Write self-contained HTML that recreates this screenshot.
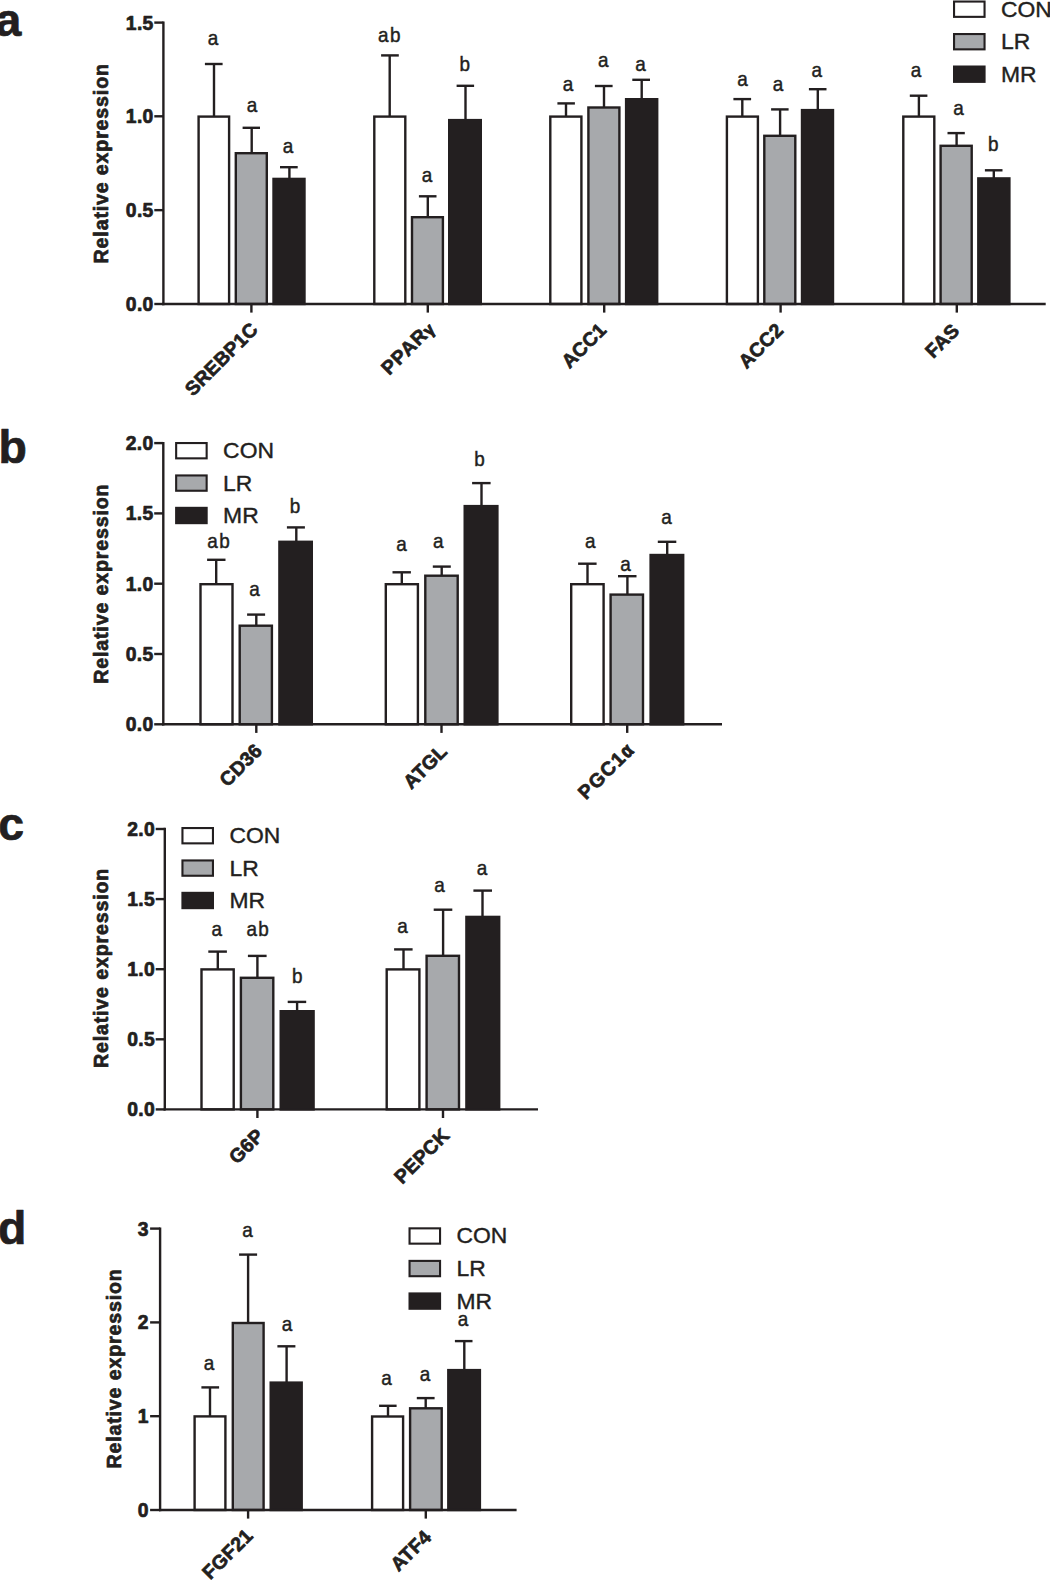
<!DOCTYPE html>
<html lang="en">
<head>
<meta charset="utf-8">
<title>Relative expression figure</title>
<style>
html,body{margin:0;padding:0;background:#fff;}
body{width:1050px;height:1580px;overflow:hidden;}
svg{display:block;font-family:"Liberation Sans",sans-serif;fill:#231f20;}
</style>
</head>
<body>
<svg width="1050" height="1580" viewBox="0 0 1050 1580">
<rect x="0" y="0" width="1050" height="1580" fill="#ffffff"/>
<line x1="214.00" y1="64.00" x2="214.00" y2="116.40" stroke="#231f20" stroke-width="2.4"/>
<line x1="204.90" y1="64.00" x2="222.60" y2="64.00" stroke="#231f20" stroke-width="2.4"/>
<rect x="198.60" y="116.60" width="30.50" height="187.40" fill="#ffffff" stroke="#231f20" stroke-width="2.4"/>
<text font-size="19.5" text-anchor="middle" stroke="#231f20" stroke-width="0.45" letter-spacing="0" transform="translate(212.90,44.80) scale(0.97,1)">a</text>
<line x1="251.70" y1="127.80" x2="251.70" y2="153.00" stroke="#231f20" stroke-width="2.4"/>
<line x1="242.60" y1="127.80" x2="260.00" y2="127.80" stroke="#231f20" stroke-width="2.4"/>
<rect x="235.80" y="153.20" width="31.00" height="150.80" fill="#a7a9ac" stroke="#231f20" stroke-width="2.4"/>
<text font-size="19.5" text-anchor="middle" stroke="#231f20" stroke-width="0.45" letter-spacing="0" transform="translate(252.10,112.00) scale(0.97,1)">a</text>
<line x1="289.40" y1="167.20" x2="289.40" y2="178.70" stroke="#231f20" stroke-width="2.4"/>
<line x1="280.00" y1="167.20" x2="297.70" y2="167.20" stroke="#231f20" stroke-width="2.4"/>
<rect x="272.30" y="177.70" width="33.40" height="127.50" fill="#231f20"/>
<text font-size="19.5" text-anchor="middle" stroke="#231f20" stroke-width="0.45" letter-spacing="0" transform="translate(288.10,152.80) scale(0.97,1)">a</text>
<line x1="389.70" y1="55.40" x2="389.70" y2="116.40" stroke="#231f20" stroke-width="2.4"/>
<line x1="381.10" y1="55.40" x2="398.80" y2="55.40" stroke="#231f20" stroke-width="2.4"/>
<rect x="374.30" y="116.60" width="31.00" height="187.40" fill="#ffffff" stroke="#231f20" stroke-width="2.4"/>
<text font-size="19.5" text-anchor="middle" stroke="#231f20" stroke-width="0.45" letter-spacing="1.4" transform="translate(389.88,41.70) scale(0.97,1)">ab</text>
<line x1="427.80" y1="196.30" x2="427.80" y2="217.00" stroke="#231f20" stroke-width="2.4"/>
<line x1="418.90" y1="196.30" x2="436.50" y2="196.30" stroke="#231f20" stroke-width="2.4"/>
<rect x="412.00" y="217.20" width="30.90" height="86.80" fill="#a7a9ac" stroke="#231f20" stroke-width="2.4"/>
<text font-size="19.5" text-anchor="middle" stroke="#231f20" stroke-width="0.45" letter-spacing="0" transform="translate(427.10,182.00) scale(0.97,1)">a</text>
<line x1="465.50" y1="85.80" x2="465.50" y2="119.90" stroke="#231f20" stroke-width="2.4"/>
<line x1="456.60" y1="85.80" x2="474.10" y2="85.80" stroke="#231f20" stroke-width="2.4"/>
<rect x="448.00" y="118.90" width="34.00" height="186.30" fill="#231f20"/>
<text font-size="19.5" text-anchor="middle" stroke="#231f20" stroke-width="0.45" letter-spacing="0" transform="translate(464.70,70.90) scale(0.97,1)">b</text>
<line x1="566.00" y1="103.40" x2="566.00" y2="116.40" stroke="#231f20" stroke-width="2.4"/>
<line x1="557.40" y1="103.40" x2="574.90" y2="103.40" stroke="#231f20" stroke-width="2.4"/>
<rect x="550.30" y="116.60" width="31.10" height="187.40" fill="#ffffff" stroke="#231f20" stroke-width="2.4"/>
<text font-size="19.5" text-anchor="middle" stroke="#231f20" stroke-width="0.45" letter-spacing="0" transform="translate(567.90,90.60) scale(0.97,1)">a</text>
<line x1="604.00" y1="86.00" x2="604.00" y2="107.30" stroke="#231f20" stroke-width="2.4"/>
<line x1="594.90" y1="86.00" x2="612.60" y2="86.00" stroke="#231f20" stroke-width="2.4"/>
<rect x="588.40" y="107.50" width="31.00" height="196.50" fill="#a7a9ac" stroke="#231f20" stroke-width="2.4"/>
<text font-size="19.5" text-anchor="middle" stroke="#231f20" stroke-width="0.45" letter-spacing="0" transform="translate(603.20,66.60) scale(0.97,1)">a</text>
<line x1="641.70" y1="79.80" x2="641.70" y2="99.00" stroke="#231f20" stroke-width="2.4"/>
<line x1="632.30" y1="79.80" x2="650.00" y2="79.80" stroke="#231f20" stroke-width="2.4"/>
<rect x="624.90" y="98.00" width="33.50" height="207.20" fill="#231f20"/>
<text font-size="19.5" text-anchor="middle" stroke="#231f20" stroke-width="0.45" letter-spacing="0" transform="translate(640.60,70.90) scale(0.97,1)">a</text>
<line x1="742.30" y1="99.10" x2="742.30" y2="116.40" stroke="#231f20" stroke-width="2.4"/>
<line x1="733.40" y1="99.10" x2="751.10" y2="99.10" stroke="#231f20" stroke-width="2.4"/>
<rect x="726.90" y="116.60" width="31.00" height="187.40" fill="#ffffff" stroke="#231f20" stroke-width="2.4"/>
<text font-size="19.5" text-anchor="middle" stroke="#231f20" stroke-width="0.45" letter-spacing="0" transform="translate(742.50,86.30) scale(0.97,1)">a</text>
<line x1="780.10" y1="109.40" x2="780.10" y2="135.60" stroke="#231f20" stroke-width="2.4"/>
<line x1="771.10" y1="109.40" x2="788.60" y2="109.40" stroke="#231f20" stroke-width="2.4"/>
<rect x="764.30" y="135.80" width="31.00" height="168.20" fill="#a7a9ac" stroke="#231f20" stroke-width="2.4"/>
<text font-size="19.5" text-anchor="middle" stroke="#231f20" stroke-width="0.45" letter-spacing="0" transform="translate(778.10,90.60) scale(0.97,1)">a</text>
<line x1="817.80" y1="89.20" x2="817.80" y2="109.90" stroke="#231f20" stroke-width="2.4"/>
<line x1="808.90" y1="89.20" x2="826.50" y2="89.20" stroke="#231f20" stroke-width="2.4"/>
<rect x="800.80" y="108.90" width="33.40" height="196.30" fill="#231f20"/>
<text font-size="19.5" text-anchor="middle" stroke="#231f20" stroke-width="0.45" letter-spacing="0" transform="translate(816.70,76.50) scale(0.97,1)">a</text>
<line x1="918.90" y1="95.70" x2="918.90" y2="116.40" stroke="#231f20" stroke-width="2.4"/>
<line x1="909.80" y1="95.70" x2="927.40" y2="95.70" stroke="#231f20" stroke-width="2.4"/>
<rect x="903.30" y="116.60" width="31.00" height="187.40" fill="#ffffff" stroke="#231f20" stroke-width="2.4"/>
<text font-size="19.5" text-anchor="middle" stroke="#231f20" stroke-width="0.45" letter-spacing="0" transform="translate(916.00,76.90) scale(0.97,1)">a</text>
<line x1="956.60" y1="133.10" x2="956.60" y2="145.60" stroke="#231f20" stroke-width="2.4"/>
<line x1="947.50" y1="133.10" x2="964.80" y2="133.10" stroke="#231f20" stroke-width="2.4"/>
<rect x="940.60" y="145.80" width="31.10" height="158.20" fill="#a7a9ac" stroke="#231f20" stroke-width="2.4"/>
<text font-size="19.5" text-anchor="middle" stroke="#231f20" stroke-width="0.45" letter-spacing="0" transform="translate(958.50,114.60) scale(0.97,1)">a</text>
<line x1="993.80" y1="170.30" x2="993.80" y2="178.20" stroke="#231f20" stroke-width="2.4"/>
<line x1="984.90" y1="170.30" x2="1002.50" y2="170.30" stroke="#231f20" stroke-width="2.4"/>
<rect x="977.10" y="177.20" width="33.50" height="128.00" fill="#231f20"/>
<text font-size="19.5" text-anchor="middle" stroke="#231f20" stroke-width="0.45" letter-spacing="0" transform="translate(993.30,151.40) scale(0.97,1)">b</text>
<line x1="163.40" y1="21.40" x2="163.40" y2="305.20" stroke="#231f20" stroke-width="2.4"/>
<line x1="162.20" y1="304.00" x2="1045.70" y2="304.00" stroke="#231f20" stroke-width="2.4"/>
<line x1="154.30" y1="304.00" x2="163.40" y2="304.00" stroke="#231f20" stroke-width="2.4"/>
<text x="153.70" y="310.90" font-size="19.3" font-weight="bold" text-anchor="end" stroke="#231f20" stroke-width="0.7" stroke-linejoin="round" letter-spacing="0.35">0.0</text>
<line x1="154.30" y1="210.15" x2="163.40" y2="210.15" stroke="#231f20" stroke-width="2.4"/>
<text x="153.70" y="217.05" font-size="19.3" font-weight="bold" text-anchor="end" stroke="#231f20" stroke-width="0.7" stroke-linejoin="round" letter-spacing="0.35">0.5</text>
<line x1="154.30" y1="116.30" x2="163.40" y2="116.30" stroke="#231f20" stroke-width="2.4"/>
<text x="153.70" y="123.20" font-size="19.3" font-weight="bold" text-anchor="end" stroke="#231f20" stroke-width="0.7" stroke-linejoin="round" letter-spacing="0.35">1.0</text>
<line x1="154.30" y1="22.60" x2="163.40" y2="22.60" stroke="#231f20" stroke-width="2.4"/>
<text x="153.70" y="29.50" font-size="19.3" font-weight="bold" text-anchor="end" stroke="#231f20" stroke-width="0.7" stroke-linejoin="round" letter-spacing="0.35">1.5</text>
<text x="0.00" y="0.00" font-size="19.6" font-weight="bold" text-anchor="middle" stroke="#231f20" stroke-width="0.7" stroke-linejoin="round" letter-spacing="0.85" transform="translate(108.00,163.30) rotate(-90)">Relative expression</text>
<line x1="251.40" y1="304.00" x2="251.40" y2="312.60" stroke="#231f20" stroke-width="2.4"/>
<text x="0.00" y="0.00" font-size="19.5" font-weight="bold" text-anchor="end" stroke="#231f20" stroke-width="0.7" stroke-linejoin="round" letter-spacing="0.22" transform="translate(259.12,330.70) rotate(-45)">SREBP1C</text>
<line x1="427.80" y1="304.00" x2="427.80" y2="312.60" stroke="#231f20" stroke-width="2.4"/>
<g transform="translate(435.20,330.06) rotate(-45)">
<text x="-8.60" y="0.00" font-size="19.5" font-weight="bold" text-anchor="end" stroke="#231f20" stroke-width="0.7" stroke-linejoin="round" letter-spacing="0.9">PPAR</text>
<g transform="translate(-8.80,0.8) scale(0.95,1)">
<text font-size="16.5" font-weight="bold" stroke="#231f20" stroke-width="1.1" stroke-linejoin="round">γ</text>
</g></g>
<line x1="604.20" y1="304.00" x2="604.20" y2="312.60" stroke="#231f20" stroke-width="2.4"/>
<text x="0.00" y="0.00" font-size="19.5" font-weight="bold" text-anchor="end" stroke="#231f20" stroke-width="0.7" stroke-linejoin="round" letter-spacing="0.22" transform="translate(607.60,331.10) rotate(-45)">ACC1</text>
<line x1="780.60" y1="304.00" x2="780.60" y2="312.60" stroke="#231f20" stroke-width="2.4"/>
<text x="0.00" y="0.00" font-size="19.5" font-weight="bold" text-anchor="end" stroke="#231f20" stroke-width="0.7" stroke-linejoin="round" letter-spacing="0.22" transform="translate(784.56,331.34) rotate(-45)">ACC2</text>
<line x1="956.80" y1="304.00" x2="956.80" y2="312.60" stroke="#231f20" stroke-width="2.4"/>
<text x="0.00" y="0.00" font-size="19.5" font-weight="bold" text-anchor="end" stroke="#231f20" stroke-width="0.7" stroke-linejoin="round" letter-spacing="0.22" transform="translate(960.52,331.90) rotate(-45)">FAS</text>
<rect x="954.05" y="1.55" width="30.50" height="15.30" fill="#ffffff" stroke="#231f20" stroke-width="2.1"/>
<text x="0.00" y="0.00" font-size="22.9" font-weight="normal" text-anchor="start" stroke="#231f20" stroke-width="0.4" stroke-linejoin="round" transform="translate(1001.00,16.60) scale(1.0,1)">CON</text>
<rect x="954.05" y="34.05" width="30.50" height="15.30" fill="#a7a9ac" stroke="#231f20" stroke-width="2.1"/>
<text x="0.00" y="0.00" font-size="22.9" font-weight="normal" text-anchor="start" stroke="#231f20" stroke-width="0.4" stroke-linejoin="round" transform="translate(1001.00,49.10) scale(1.0,1)">LR</text>
<rect x="953.00" y="65.50" width="32.60" height="17.40" fill="#231f20"/>
<text x="0.00" y="0.00" font-size="22.9" font-weight="normal" text-anchor="start" stroke="#231f20" stroke-width="0.4" stroke-linejoin="round" transform="translate(1001.00,81.60) scale(1.0,1)">MR</text>
<text x="-4.50" y="36.30" font-size="46.4" font-weight="bold" text-anchor="start" stroke="#231f20" stroke-width="0.7" stroke-linejoin="round" >a</text>
<line x1="216.20" y1="559.80" x2="216.20" y2="584.00" stroke="#231f20" stroke-width="2.4"/>
<line x1="207.10" y1="559.80" x2="225.50" y2="559.80" stroke="#231f20" stroke-width="2.4"/>
<rect x="200.50" y="584.20" width="32.00" height="140.10" fill="#ffffff" stroke="#231f20" stroke-width="2.4"/>
<text font-size="19.5" text-anchor="middle" stroke="#231f20" stroke-width="0.45" letter-spacing="1.4" transform="translate(219.18,548.00) scale(0.97,1)">ab</text>
<line x1="256.30" y1="614.60" x2="256.30" y2="625.50" stroke="#231f20" stroke-width="2.4"/>
<line x1="247.10" y1="614.60" x2="265.10" y2="614.60" stroke="#231f20" stroke-width="2.4"/>
<rect x="239.70" y="625.70" width="32.20" height="98.60" fill="#a7a9ac" stroke="#231f20" stroke-width="2.4"/>
<text font-size="19.5" text-anchor="middle" stroke="#231f20" stroke-width="0.45" letter-spacing="0" transform="translate(254.60,595.80) scale(0.97,1)">a</text>
<line x1="296.30" y1="527.40" x2="296.30" y2="541.60" stroke="#231f20" stroke-width="2.4"/>
<line x1="286.90" y1="527.40" x2="304.90" y2="527.40" stroke="#231f20" stroke-width="2.4"/>
<rect x="278.20" y="540.60" width="34.80" height="184.90" fill="#231f20"/>
<text font-size="19.5" text-anchor="middle" stroke="#231f20" stroke-width="0.45" letter-spacing="0" transform="translate(295.00,512.80) scale(0.97,1)">b</text>
<line x1="401.80" y1="572.30" x2="401.80" y2="584.00" stroke="#231f20" stroke-width="2.4"/>
<line x1="392.50" y1="572.30" x2="410.90" y2="572.30" stroke="#231f20" stroke-width="2.4"/>
<rect x="385.80" y="584.20" width="32.10" height="140.10" fill="#ffffff" stroke="#231f20" stroke-width="2.4"/>
<text font-size="19.5" text-anchor="middle" stroke="#231f20" stroke-width="0.45" letter-spacing="0" transform="translate(401.40,550.90) scale(0.97,1)">a</text>
<line x1="441.70" y1="566.60" x2="441.70" y2="575.50" stroke="#231f20" stroke-width="2.4"/>
<line x1="432.80" y1="566.60" x2="450.80" y2="566.60" stroke="#231f20" stroke-width="2.4"/>
<rect x="425.30" y="575.70" width="32.40" height="148.60" fill="#a7a9ac" stroke="#231f20" stroke-width="2.4"/>
<text font-size="19.5" text-anchor="middle" stroke="#231f20" stroke-width="0.45" letter-spacing="0" transform="translate(438.20,548.00) scale(0.97,1)">a</text>
<line x1="481.50" y1="483.10" x2="481.50" y2="505.90" stroke="#231f20" stroke-width="2.4"/>
<line x1="472.10" y1="483.10" x2="490.60" y2="483.10" stroke="#231f20" stroke-width="2.4"/>
<rect x="463.50" y="504.90" width="35.10" height="220.60" fill="#231f20"/>
<text font-size="19.5" text-anchor="middle" stroke="#231f20" stroke-width="0.45" letter-spacing="0" transform="translate(479.50,466.00) scale(0.97,1)">b</text>
<line x1="587.50" y1="563.70" x2="587.50" y2="584.00" stroke="#231f20" stroke-width="2.4"/>
<line x1="578.10" y1="563.70" x2="596.60" y2="563.70" stroke="#231f20" stroke-width="2.4"/>
<rect x="571.20" y="584.20" width="32.40" height="140.10" fill="#ffffff" stroke="#231f20" stroke-width="2.4"/>
<text font-size="19.5" text-anchor="middle" stroke="#231f20" stroke-width="0.45" letter-spacing="0" transform="translate(590.30,548.30) scale(0.97,1)">a</text>
<line x1="627.40" y1="576.20" x2="627.40" y2="594.40" stroke="#231f20" stroke-width="2.4"/>
<line x1="618.00" y1="576.20" x2="636.50" y2="576.20" stroke="#231f20" stroke-width="2.4"/>
<rect x="610.60" y="594.60" width="32.40" height="129.70" fill="#a7a9ac" stroke="#231f20" stroke-width="2.4"/>
<text font-size="19.5" text-anchor="middle" stroke="#231f20" stroke-width="0.45" letter-spacing="0" transform="translate(625.60,570.60) scale(0.97,1)">a</text>
<line x1="667.20" y1="541.80" x2="667.20" y2="554.80" stroke="#231f20" stroke-width="2.4"/>
<line x1="657.80" y1="541.80" x2="676.30" y2="541.80" stroke="#231f20" stroke-width="2.4"/>
<rect x="649.40" y="553.80" width="35.00" height="171.70" fill="#231f20"/>
<text font-size="19.5" text-anchor="middle" stroke="#231f20" stroke-width="0.45" letter-spacing="0" transform="translate(666.50,524.30) scale(0.97,1)">a</text>
<line x1="163.30" y1="441.90" x2="163.30" y2="725.50" stroke="#231f20" stroke-width="2.4"/>
<line x1="162.10" y1="724.30" x2="722.00" y2="724.30" stroke="#231f20" stroke-width="2.4"/>
<line x1="154.20" y1="724.30" x2="163.30" y2="724.30" stroke="#231f20" stroke-width="2.4"/>
<text x="153.60" y="731.20" font-size="19.3" font-weight="bold" text-anchor="end" stroke="#231f20" stroke-width="0.7" stroke-linejoin="round" letter-spacing="0.35">0.0</text>
<line x1="154.20" y1="654.00" x2="163.30" y2="654.00" stroke="#231f20" stroke-width="2.4"/>
<text x="153.60" y="660.90" font-size="19.3" font-weight="bold" text-anchor="end" stroke="#231f20" stroke-width="0.7" stroke-linejoin="round" letter-spacing="0.35">0.5</text>
<line x1="154.20" y1="583.70" x2="163.30" y2="583.70" stroke="#231f20" stroke-width="2.4"/>
<text x="153.60" y="590.60" font-size="19.3" font-weight="bold" text-anchor="end" stroke="#231f20" stroke-width="0.7" stroke-linejoin="round" letter-spacing="0.35">1.0</text>
<line x1="154.20" y1="513.40" x2="163.30" y2="513.40" stroke="#231f20" stroke-width="2.4"/>
<text x="153.60" y="520.30" font-size="19.3" font-weight="bold" text-anchor="end" stroke="#231f20" stroke-width="0.7" stroke-linejoin="round" letter-spacing="0.35">1.5</text>
<line x1="154.20" y1="443.10" x2="163.30" y2="443.10" stroke="#231f20" stroke-width="2.4"/>
<text x="153.60" y="450.00" font-size="19.3" font-weight="bold" text-anchor="end" stroke="#231f20" stroke-width="0.7" stroke-linejoin="round" letter-spacing="0.35">2.0</text>
<text x="0.00" y="0.00" font-size="19.6" font-weight="bold" text-anchor="middle" stroke="#231f20" stroke-width="0.7" stroke-linejoin="round" letter-spacing="0.85" transform="translate(107.90,583.70) rotate(-90)">Relative expression</text>
<line x1="256.30" y1="724.30" x2="256.30" y2="732.90" stroke="#231f20" stroke-width="2.4"/>
<text x="0.00" y="0.00" font-size="19.5" font-weight="bold" text-anchor="end" stroke="#231f20" stroke-width="0.7" stroke-linejoin="round" letter-spacing="0.22" transform="translate(263.46,751.80) rotate(-45)">CD36</text>
<line x1="441.50" y1="724.30" x2="441.50" y2="732.90" stroke="#231f20" stroke-width="2.4"/>
<text x="0.00" y="0.00" font-size="19.5" font-weight="bold" text-anchor="end" stroke="#231f20" stroke-width="0.7" stroke-linejoin="round" letter-spacing="0.22" transform="translate(448.42,752.76) rotate(-45)">ATGL</text>
<line x1="627.20" y1="724.30" x2="627.20" y2="732.90" stroke="#231f20" stroke-width="2.4"/>
<g transform="translate(634.20,752.28) rotate(-45)">
<text x="-9.60" y="0.00" font-size="19.5" font-weight="bold" text-anchor="end" stroke="#231f20" stroke-width="0.7" stroke-linejoin="round" letter-spacing="1.35">PGC1</text>
<g transform="translate(-9.60,0) scale(0.85,1)">
<text font-size="19.5" font-weight="bold" stroke="#231f20" stroke-width="1.1" stroke-linejoin="round">α</text>
</g></g>
<rect x="176.15" y="443.05" width="30.50" height="15.30" fill="#ffffff" stroke="#231f20" stroke-width="2.1"/>
<text x="0.00" y="0.00" font-size="22.9" font-weight="normal" text-anchor="start" stroke="#231f20" stroke-width="0.4" stroke-linejoin="round" transform="translate(223.10,458.10) scale(1.0,1)">CON</text>
<rect x="176.15" y="475.45" width="30.50" height="15.30" fill="#a7a9ac" stroke="#231f20" stroke-width="2.1"/>
<text x="0.00" y="0.00" font-size="22.9" font-weight="normal" text-anchor="start" stroke="#231f20" stroke-width="0.4" stroke-linejoin="round" transform="translate(223.10,490.50) scale(1.0,1)">LR</text>
<rect x="175.10" y="506.80" width="32.60" height="17.40" fill="#231f20"/>
<text x="0.00" y="0.00" font-size="22.9" font-weight="normal" text-anchor="start" stroke="#231f20" stroke-width="0.4" stroke-linejoin="round" transform="translate(223.10,522.90) scale(1.0,1)">MR</text>
<text x="-1.50" y="463.00" font-size="46.4" font-weight="bold" text-anchor="start" stroke="#231f20" stroke-width="0.7" stroke-linejoin="round" >b</text>
<line x1="217.80" y1="951.60" x2="217.80" y2="969.20" stroke="#231f20" stroke-width="2.4"/>
<line x1="208.30" y1="951.60" x2="226.90" y2="951.60" stroke="#231f20" stroke-width="2.4"/>
<rect x="201.50" y="969.40" width="32.20" height="140.00" fill="#ffffff" stroke="#231f20" stroke-width="2.4"/>
<text font-size="19.5" text-anchor="middle" stroke="#231f20" stroke-width="0.45" letter-spacing="0" transform="translate(216.80,935.90) scale(0.97,1)">a</text>
<line x1="257.40" y1="955.90" x2="257.40" y2="977.60" stroke="#231f20" stroke-width="2.4"/>
<line x1="247.90" y1="955.90" x2="266.60" y2="955.90" stroke="#231f20" stroke-width="2.4"/>
<rect x="240.90" y="977.80" width="32.40" height="131.60" fill="#a7a9ac" stroke="#231f20" stroke-width="2.4"/>
<text font-size="19.5" text-anchor="middle" stroke="#231f20" stroke-width="0.45" letter-spacing="1.4" transform="translate(258.28,935.90) scale(0.97,1)">ab</text>
<line x1="297.10" y1="1001.90" x2="297.10" y2="1011.00" stroke="#231f20" stroke-width="2.4"/>
<line x1="287.70" y1="1001.90" x2="306.20" y2="1001.90" stroke="#231f20" stroke-width="2.4"/>
<rect x="279.50" y="1010.00" width="35.30" height="100.60" fill="#231f20"/>
<text font-size="19.5" text-anchor="middle" stroke="#231f20" stroke-width="0.45" letter-spacing="0" transform="translate(297.20,983.40) scale(0.97,1)">b</text>
<line x1="403.50" y1="949.40" x2="403.50" y2="969.20" stroke="#231f20" stroke-width="2.4"/>
<line x1="394.10" y1="949.40" x2="412.60" y2="949.40" stroke="#231f20" stroke-width="2.4"/>
<rect x="386.70" y="969.40" width="32.70" height="140.00" fill="#ffffff" stroke="#231f20" stroke-width="2.4"/>
<text font-size="19.5" text-anchor="middle" stroke="#231f20" stroke-width="0.45" letter-spacing="0" transform="translate(402.50,933.10) scale(0.97,1)">a</text>
<line x1="443.10" y1="909.70" x2="443.10" y2="955.60" stroke="#231f20" stroke-width="2.4"/>
<line x1="433.70" y1="909.70" x2="452.30" y2="909.70" stroke="#231f20" stroke-width="2.4"/>
<rect x="426.60" y="955.80" width="32.40" height="153.60" fill="#a7a9ac" stroke="#231f20" stroke-width="2.4"/>
<text font-size="19.5" text-anchor="middle" stroke="#231f20" stroke-width="0.45" letter-spacing="0" transform="translate(439.50,892.00) scale(0.97,1)">a</text>
<line x1="482.50" y1="890.60" x2="482.50" y2="916.70" stroke="#231f20" stroke-width="2.4"/>
<line x1="473.40" y1="890.60" x2="492.00" y2="890.60" stroke="#231f20" stroke-width="2.4"/>
<rect x="465.20" y="915.70" width="35.20" height="194.90" fill="#231f20"/>
<text font-size="19.5" text-anchor="middle" stroke="#231f20" stroke-width="0.45" letter-spacing="0" transform="translate(482.10,874.90) scale(0.97,1)">a</text>
<line x1="164.80" y1="827.80" x2="164.80" y2="1110.60" stroke="#231f20" stroke-width="2.4"/>
<line x1="163.60" y1="1109.40" x2="538.00" y2="1109.40" stroke="#231f20" stroke-width="2.4"/>
<line x1="155.70" y1="1109.40" x2="164.80" y2="1109.40" stroke="#231f20" stroke-width="2.4"/>
<text x="155.10" y="1116.30" font-size="19.3" font-weight="bold" text-anchor="end" stroke="#231f20" stroke-width="0.7" stroke-linejoin="round" letter-spacing="0.35">0.0</text>
<line x1="155.70" y1="1039.30" x2="164.80" y2="1039.30" stroke="#231f20" stroke-width="2.4"/>
<text x="155.10" y="1046.20" font-size="19.3" font-weight="bold" text-anchor="end" stroke="#231f20" stroke-width="0.7" stroke-linejoin="round" letter-spacing="0.35">0.5</text>
<line x1="155.70" y1="969.20" x2="164.80" y2="969.20" stroke="#231f20" stroke-width="2.4"/>
<text x="155.10" y="976.10" font-size="19.3" font-weight="bold" text-anchor="end" stroke="#231f20" stroke-width="0.7" stroke-linejoin="round" letter-spacing="0.35">1.0</text>
<line x1="155.70" y1="899.10" x2="164.80" y2="899.10" stroke="#231f20" stroke-width="2.4"/>
<text x="155.10" y="906.00" font-size="19.3" font-weight="bold" text-anchor="end" stroke="#231f20" stroke-width="0.7" stroke-linejoin="round" letter-spacing="0.35">1.5</text>
<line x1="155.70" y1="829.00" x2="164.80" y2="829.00" stroke="#231f20" stroke-width="2.4"/>
<text x="155.10" y="835.90" font-size="19.3" font-weight="bold" text-anchor="end" stroke="#231f20" stroke-width="0.7" stroke-linejoin="round" letter-spacing="0.35">2.0</text>
<text x="0.00" y="0.00" font-size="19.6" font-weight="bold" text-anchor="middle" stroke="#231f20" stroke-width="0.7" stroke-linejoin="round" letter-spacing="0.85" transform="translate(108.20,968.00) rotate(-90)">Relative expression</text>
<line x1="257.40" y1="1109.40" x2="257.40" y2="1118.00" stroke="#231f20" stroke-width="2.4"/>
<text x="0.00" y="0.00" font-size="19.5" font-weight="bold" text-anchor="end" stroke="#231f20" stroke-width="0.7" stroke-linejoin="round" letter-spacing="0.22" transform="translate(265.04,1136.82) rotate(-45)">G6P</text>
<line x1="443.00" y1="1109.40" x2="443.00" y2="1118.00" stroke="#231f20" stroke-width="2.4"/>
<text x="0.00" y="0.00" font-size="19.5" font-weight="bold" text-anchor="end" stroke="#231f20" stroke-width="0.7" stroke-linejoin="round" letter-spacing="0.22" transform="translate(450.56,1136.66) rotate(-45)">PEPCK</text>
<rect x="182.45" y="828.05" width="30.50" height="15.30" fill="#ffffff" stroke="#231f20" stroke-width="2.1"/>
<text x="0.00" y="0.00" font-size="22.9" font-weight="normal" text-anchor="start" stroke="#231f20" stroke-width="0.4" stroke-linejoin="round" transform="translate(229.40,843.10) scale(1.0,1)">CON</text>
<rect x="182.45" y="860.45" width="30.50" height="15.30" fill="#a7a9ac" stroke="#231f20" stroke-width="2.1"/>
<text x="0.00" y="0.00" font-size="22.9" font-weight="normal" text-anchor="start" stroke="#231f20" stroke-width="0.4" stroke-linejoin="round" transform="translate(229.40,875.50) scale(1.0,1)">LR</text>
<rect x="181.40" y="891.80" width="32.60" height="17.40" fill="#231f20"/>
<text x="0.00" y="0.00" font-size="22.9" font-weight="normal" text-anchor="start" stroke="#231f20" stroke-width="0.4" stroke-linejoin="round" transform="translate(229.40,907.90) scale(1.0,1)">MR</text>
<text x="-1.80" y="839.70" font-size="46.4" font-weight="bold" text-anchor="start" stroke="#231f20" stroke-width="0.7" stroke-linejoin="round" >c</text>
<line x1="210.00" y1="1387.40" x2="210.00" y2="1416.20" stroke="#231f20" stroke-width="2.4"/>
<line x1="201.40" y1="1387.40" x2="219.10" y2="1387.40" stroke="#231f20" stroke-width="2.4"/>
<rect x="194.60" y="1416.40" width="30.80" height="93.60" fill="#ffffff" stroke="#231f20" stroke-width="2.4"/>
<text font-size="19.5" text-anchor="middle" stroke="#231f20" stroke-width="0.45" letter-spacing="0" transform="translate(209.10,1370.30) scale(0.97,1)">a</text>
<line x1="248.10" y1="1254.60" x2="248.10" y2="1322.80" stroke="#231f20" stroke-width="2.4"/>
<line x1="239.10" y1="1254.60" x2="257.10" y2="1254.60" stroke="#231f20" stroke-width="2.4"/>
<rect x="232.80" y="1323.00" width="30.80" height="187.00" fill="#a7a9ac" stroke="#231f20" stroke-width="2.4"/>
<text font-size="19.5" text-anchor="middle" stroke="#231f20" stroke-width="0.45" letter-spacing="0" transform="translate(247.40,1237.40) scale(0.97,1)">a</text>
<line x1="286.60" y1="1346.30" x2="286.60" y2="1382.40" stroke="#231f20" stroke-width="2.4"/>
<line x1="277.40" y1="1346.30" x2="295.40" y2="1346.30" stroke="#231f20" stroke-width="2.4"/>
<rect x="269.50" y="1381.40" width="33.40" height="129.80" fill="#231f20"/>
<text font-size="19.5" text-anchor="middle" stroke="#231f20" stroke-width="0.45" letter-spacing="0" transform="translate(286.90,1330.50) scale(0.97,1)">a</text>
<line x1="388.00" y1="1405.80" x2="388.00" y2="1416.30" stroke="#231f20" stroke-width="2.4"/>
<line x1="379.10" y1="1405.80" x2="396.60" y2="1405.80" stroke="#231f20" stroke-width="2.4"/>
<rect x="372.10" y="1416.50" width="31.00" height="93.50" fill="#ffffff" stroke="#231f20" stroke-width="2.4"/>
<text font-size="19.5" text-anchor="middle" stroke="#231f20" stroke-width="0.45" letter-spacing="0" transform="translate(386.60,1385.20) scale(0.97,1)">a</text>
<line x1="425.70" y1="1398.10" x2="425.70" y2="1408.10" stroke="#231f20" stroke-width="2.4"/>
<line x1="416.80" y1="1398.10" x2="434.60" y2="1398.10" stroke="#231f20" stroke-width="2.4"/>
<rect x="410.10" y="1408.30" width="31.60" height="101.70" fill="#a7a9ac" stroke="#231f20" stroke-width="2.4"/>
<text font-size="19.5" text-anchor="middle" stroke="#231f20" stroke-width="0.45" letter-spacing="0" transform="translate(425.00,1380.90) scale(0.97,1)">a</text>
<line x1="464.30" y1="1341.10" x2="464.30" y2="1369.90" stroke="#231f20" stroke-width="2.4"/>
<line x1="454.90" y1="1341.10" x2="472.50" y2="1341.10" stroke="#231f20" stroke-width="2.4"/>
<rect x="447.10" y="1368.90" width="34.00" height="142.30" fill="#231f20"/>
<text font-size="19.5" text-anchor="middle" stroke="#231f20" stroke-width="0.45" letter-spacing="0" transform="translate(462.90,1326.20) scale(0.97,1)">a</text>
<line x1="160.10" y1="1227.40" x2="160.10" y2="1511.20" stroke="#231f20" stroke-width="2.4"/>
<line x1="158.90" y1="1510.00" x2="516.60" y2="1510.00" stroke="#231f20" stroke-width="2.4"/>
<line x1="150.10" y1="1510.00" x2="160.10" y2="1510.00" stroke="#231f20" stroke-width="2.4"/>
<text x="148.80" y="1516.90" font-size="19.3" font-weight="bold" text-anchor="end" stroke="#231f20" stroke-width="0.7" stroke-linejoin="round" letter-spacing="0.35">0</text>
<line x1="150.10" y1="1416.20" x2="160.10" y2="1416.20" stroke="#231f20" stroke-width="2.4"/>
<text x="148.80" y="1423.10" font-size="19.3" font-weight="bold" text-anchor="end" stroke="#231f20" stroke-width="0.7" stroke-linejoin="round" letter-spacing="0.35">1</text>
<line x1="150.10" y1="1322.40" x2="160.10" y2="1322.40" stroke="#231f20" stroke-width="2.4"/>
<text x="148.80" y="1329.30" font-size="19.3" font-weight="bold" text-anchor="end" stroke="#231f20" stroke-width="0.7" stroke-linejoin="round" letter-spacing="0.35">2</text>
<line x1="150.10" y1="1228.60" x2="160.10" y2="1228.60" stroke="#231f20" stroke-width="2.4"/>
<text x="148.80" y="1235.50" font-size="19.3" font-weight="bold" text-anchor="end" stroke="#231f20" stroke-width="0.7" stroke-linejoin="round" letter-spacing="0.35">3</text>
<text x="0.00" y="0.00" font-size="19.6" font-weight="bold" text-anchor="middle" stroke="#231f20" stroke-width="0.7" stroke-linejoin="round" letter-spacing="0.85" transform="translate(120.70,1368.50) rotate(-90)">Relative expression</text>
<line x1="248.10" y1="1510.00" x2="248.10" y2="1518.60" stroke="#231f20" stroke-width="2.4"/>
<text x="0.00" y="0.00" font-size="19.5" font-weight="bold" text-anchor="end" stroke="#231f20" stroke-width="0.7" stroke-linejoin="round" letter-spacing="0.22" transform="translate(254.06,1536.86) rotate(-45)">FGF21</text>
<line x1="425.80" y1="1510.00" x2="425.80" y2="1518.60" stroke="#231f20" stroke-width="2.4"/>
<text x="0.00" y="0.00" font-size="19.5" font-weight="bold" text-anchor="end" stroke="#231f20" stroke-width="0.7" stroke-linejoin="round" letter-spacing="0.22" transform="translate(432.56,1538.30) rotate(-45)">ATF4</text>
<rect x="409.55" y="1228.35" width="30.50" height="15.30" fill="#ffffff" stroke="#231f20" stroke-width="2.1"/>
<text x="0.00" y="0.00" font-size="22.9" font-weight="normal" text-anchor="start" stroke="#231f20" stroke-width="0.4" stroke-linejoin="round" transform="translate(456.50,1243.40) scale(1.0,1)">CON</text>
<rect x="409.55" y="1260.90" width="30.50" height="15.30" fill="#a7a9ac" stroke="#231f20" stroke-width="2.1"/>
<text x="0.00" y="0.00" font-size="22.9" font-weight="normal" text-anchor="start" stroke="#231f20" stroke-width="0.4" stroke-linejoin="round" transform="translate(456.50,1275.95) scale(1.0,1)">LR</text>
<rect x="408.50" y="1292.40" width="32.60" height="17.40" fill="#231f20"/>
<text x="0.00" y="0.00" font-size="22.9" font-weight="normal" text-anchor="start" stroke="#231f20" stroke-width="0.4" stroke-linejoin="round" transform="translate(456.50,1308.50) scale(1.0,1)">MR</text>
<text x="-2.00" y="1244.00" font-size="46.4" font-weight="bold" text-anchor="start" stroke="#231f20" stroke-width="0.7" stroke-linejoin="round" >d</text>
</svg>
</body>
</html>
